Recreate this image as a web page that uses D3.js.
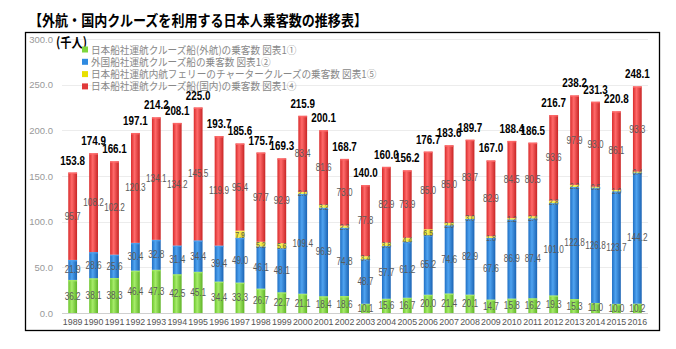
<!DOCTYPE html>
<html><head><meta charset="utf-8">
<script src="https://cdn.jsdelivr.net/npm/d3@7"></script>
<style>html,body{margin:0;padding:0;background:#fff;}svg{display:block;}</style>
</head><body>
<script>
const years = ["1989","1990","1991","1992","1993","1994","1995","1996","1997","1998","1999","2000","2001","2002","2003","2004","2005","2006","2007","2008","2009","2010","2011","2012","2013","2014","2015","2016"];
const greenVals = [36.2,38.1,38.3,46.4,47.3,42.5,45.1,34.4,33.3,26.7,22.7,21.1,18.4,18.6,10.1,15.6,16.7,20.0,21.4,20.1,14.7,15.8,16.2,19.3,15.3,11.0,10.0,10.2];
const blueVals = [21.9,28.6,25.6,30.4,32.8,31.4,34.4,39.4,49.0,46.1,48.1,109.4,96.9,74.8,48.7,57.7,61.2,65.2,74.6,82.9,67.6,86.9,87.4,101.0,122.8,126.8,123.7,144.2];
const yellowVals = [0,0,0,0,0,0,0,0,7.9,5.2,5.6,2.0,3.2,2.3,3.4,3.8,4.4,6.5,2.6,3.0,1.8,1.2,2.4,2.8,2.2,0.5,1.0,0.4];
const redVals = [95.7,108.2,102.2,120.3,134.1,134.2,145.5,119.9,95.4,97.7,92.9,83.4,81.6,73.0,77.8,82.9,73.9,85.0,85.0,83.7,82.9,84.5,80.5,93.6,97.9,93.0,86.1,93.3];
const totals = [153.8,174.9,166.1,197.1,214.2,208.1,225.0,193.7,185.6,175.7,169.3,215.9,200.1,168.7,140.0,160.0,156.2,176.7,183.6,189.7,167.0,188.4,186.5,216.7,238.2,231.3,220.8,248.1];
const seriesNames = ["日本船社運航クルーズ船(外航)の乗客数 図表1①","外国船社運航クルーズ船の乗客数 図表1②","日本船社運航内航フェリーのチャータークルーズの乗客数 図表1⑤","日本船社運航クルーズ船(国内)の乗客数 図表1④"];
const seriesKeys = ["green","blue","yellow","red"];
const yTicks = [0,50,100,150,200,250,300];
const title = "【外航・国内クルーズを利用する日本人乗客数の推移表】";
const unitLabel = "(千人)";

const colors = {
  green: ["#6cc52c","#a6ec6a","#5fb327"],
  blue: ["#1f6fc4","#4fa3f0","#1b63b3"],
  yellow: ["#d8cf00","#fbf35a","#c9c000"],
  red: ["#d92b2b","#ff6a6a","#c82424"]
};

const W = 676, H = 349;
const svg = d3.select("body").append("svg").attr("width", W).attr("height", H);
svg.append("rect").attr("width", W).attr("height", H).attr("fill", "#fff");

function squeeze(sel, f) {
  sel.each(function() {
    const len = this.getComputedTextLength();
    d3.select(this).attr("textLength", len * f).attr("lengthAdjust", "spacingAndGlyphs");
  });
}

const defs = svg.append("defs");
seriesKeys.forEach(k => {
  const g = defs.append("linearGradient").attr("id", "grad-" + k).attr("x1", "0").attr("x2", "1").attr("y1", "0").attr("y2", "0");
  g.append("stop").attr("offset", "0%").attr("stop-color", colors[k][0]);
  g.append("stop").attr("offset", "40%").attr("stop-color", colors[k][1]);
  g.append("stop").attr("offset", "100%").attr("stop-color", colors[k][2]);
});

const font = "'Noto Sans CJK JP', 'Liberation Sans', sans-serif";

// Title
svg.append("text").attr("x", 29).attr("y", 26).text(title)
  .attr("font-family", font).attr("font-weight", "bold").attr("font-size", 15)
  .attr("textLength", 338).attr("lengthAdjust", "spacingAndGlyphs").attr("fill", "#000");

// Frame
svg.append("rect").attr("x", 25.5).attr("y", 32.5).attr("width", 634).attr("height", 298)
  .attr("fill", "none").attr("stroke", "#000").attr("stroke-width", 1.3);

const y = d3.scaleLinear().domain([0, 300]).range([313, 39]);
const x = d3.scaleBand().domain(years).range([62, 648]).paddingInner(0.58).paddingOuter(0.3);

// grid
const gGrid = svg.append("g");
gGrid.selectAll("line").data(yTicks).join("line")
  .attr("x1", 62).attr("x2", 648)
  .attr("y1", d => Math.round(y(d)) + 0.5).attr("y2", d => Math.round(y(d)) + 0.5)
  .attr("stroke", d => d === 0 ? "#d0d0d0" : "#ececec").attr("stroke-width", 1);

// y axis labels
const yAxis = d3.axisLeft(y).tickValues(yTicks).tickFormat(d3.format(".1f")).tickSize(0).tickPadding(0);
const gy = svg.append("g").attr("transform", "translate(53,0)").call(yAxis);
gy.select(".domain").remove();
gy.selectAll("text").attr("font-family", "'Liberation Sans', sans-serif").attr("font-size", 9.5).attr("fill", "#999");

// x axis labels
const xAxis = d3.axisBottom(x).tickSize(0).tickPadding(0);
const gx = svg.append("g").attr("transform", "translate(0,318)").call(xAxis);
gx.select(".domain").remove();
gx.selectAll("text").attr("font-family", "'Liberation Sans', sans-serif").attr("font-size", 9.5).attr("fill", "#555");
squeeze(gx.selectAll("text"), 0.93);

// stacked data
const rows = years.map((yr, i) => ({year: yr, green: greenVals[i], blue: blueVals[i], yellow: yellowVals[i], red: redVals[i], total: totals[i]}));
const stack = d3.stack().keys(seriesKeys)(rows);

const gBars = svg.append("g");
stack.forEach(layer => {
  const k = layer.key;
  gBars.append("g").selectAll("rect").data(layer).join("rect")
    .attr("x", d => x(d.data.year))
    .attr("width", x.bandwidth())
    .attr("y", d => y(d[1]))
    .attr("height", d => Math.max(0, y(d[0]) - y(d[1])))
    .attr("fill", "url(#grad-" + k + ")");
  gBars.append("g").selectAll("rect").data(layer.filter(d => d[1] - d[0] > 0)).join("rect")
    .attr("x", d => x(d.data.year))
    .attr("width", x.bandwidth())
    .attr("y", d => y(d[1]))
    .attr("height", 1.5)
    .attr("fill", colors[k][1]).attr("opacity", 0.8);
});

// segment labels
const gLab = svg.append("g");
stack.forEach(layer => {
  const k = layer.key;
  const t = gLab.append("g").selectAll("text").data(layer.filter(d => d[1] - d[0] > 0)).join("text")
    .attr("x", d => x(d.data.year) + x.bandwidth() / 2)
    .attr("y", d => y((d[0] + d[1]) / 2) + 3.5)
    .attr("text-anchor", "middle")
    .attr("font-family", "'Liberation Sans', sans-serif")
    .attr("font-size", k === "yellow" ? 8.5 : 10)
    .attr("fill", "#5a5a5a")
    .text(d => d3.format(".1f")(d.data[k]));
  squeeze(t, 0.82);
});

// totals
const tt = svg.append("g").selectAll("text").data(rows).join("text")
  .attr("x", d => x(d.year) + x.bandwidth() / 2)
  .attr("y", d => y(d.total) - 8)
  .attr("text-anchor", "middle")
  .attr("font-family", "'Liberation Sans', sans-serif")
  .attr("font-weight", "bold").attr("font-size", 12).attr("fill", "#000")
  .text(d => d3.format(".1f")(d.total));
squeeze(tt, 0.82);

// unit label
svg.append("text").attr("x", 56).attr("y", 47).text(unitLabel)
  .attr("font-family", font).attr("font-weight", "bold").attr("font-size", 13).attr("fill", "#000")
  .attr("textLength", 31).attr("lengthAdjust", "spacingAndGlyphs");

// legend
const legColors = {green: "#7ed63c", blue: "#2f8ae0", yellow: "#e8e000", red: "#e03a3a"};
const gLeg = svg.append("g");
seriesKeys.forEach((k, i) => {
  const cy = 49.5 + i * 12.3;
  gLeg.append("rect").attr("x", 82).attr("y", cy - 3).attr("width", 6).attr("height", 6).attr("fill", legColors[k]);
  const t = gLeg.append("text").attr("x", 91).attr("y", cy + 4).text(seriesNames[i])
    .attr("font-family", font).attr("font-size", 10.5).attr("fill", "#888");
  squeeze(t, 0.915);
});
</script>
</body></html>
